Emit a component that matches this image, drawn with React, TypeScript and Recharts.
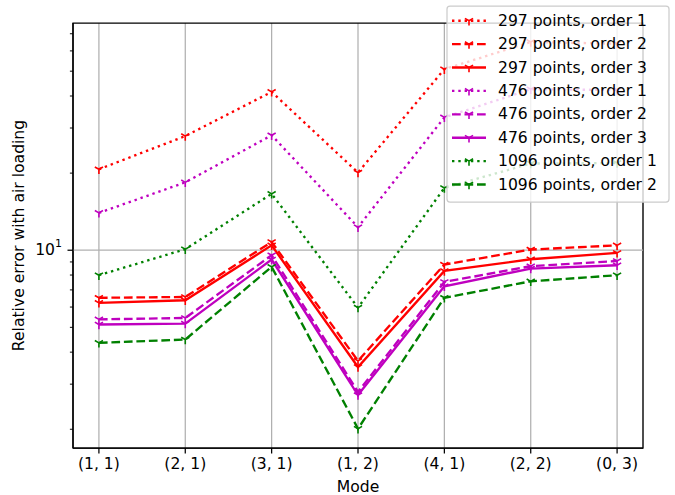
import React from 'react';
import {
  LineChart,
  Line,
  XAxis,
  YAxis,
  CartesianGrid,
  ReferenceLine,
  ReferenceArea,
} from 'recharts';

// modes on the x axis
const modes = ['(1, 1)', '(2, 1)', '(3, 1)', '(1, 2)', '(4, 1)', '(2, 2)', '(0, 3)'];

// relative error per mode
const p297o1 = [20.7, 27.9, 41.5, 20.1, 50.9, 65.0, 64.0];
const p297o2 = [6.52, 6.57, 10.77, 3.7, 8.79, 10.06, 10.45];
const p297o3 = [6.23, 6.38, 10.45, 3.5, 8.3, 9.22, 9.76];
const p476o1 = [13.99, 18.4, 28.1, 12.3, 33.0, 42.5, 42.2];
const p476o2 = [5.37, 5.44, 9.56, 2.8, 7.52, 8.66, 9.08];
const p476o3 = [5.13, 5.17, 9.2, 2.72, 7.23, 8.48, 8.74];
const p1096o1 = [7.99, 10.09, 16.6, 5.97, 17.5, 21.8, 21.9];
const p1096o2 = [4.35, 4.48, 8.61, 2.01, 6.52, 7.56, 7.99];

const yTicks = [2, 3, 4, 5, 6, 7, 8, 9, 10, 20, 30, 40, 50, 60, 70];
const yDomain = [1.69, 77.1];
const xDomain = [-0.3, 6.3];

const RED = '#ff0000';
const MAG = '#bf00bf';
const GRN = '#008000';
const DOT = '2.4 3.9';
const DASH = '8.7 3.8';
const FONT = 'DejaVu Sans, sans-serif';
const FS = 15.6;

const series = [
  { key: 'a', name: '297 points, order 1', values: p297o1, color: RED, dash: DOT },
  { key: 'b', name: '297 points, order 2', values: p297o2, color: RED, dash: DASH },
  { key: 'c', name: '297 points, order 3', values: p297o3, color: RED, dash: undefined },
  { key: 'd', name: '476 points, order 1', values: p476o1, color: MAG, dash: DOT },
  { key: 'e', name: '476 points, order 2', values: p476o2, color: MAG, dash: DASH },
  { key: 'f', name: '476 points, order 3', values: p476o3, color: MAG, dash: undefined },
  { key: 'g', name: '1096 points, order 1', values: p1096o1, color: GRN, dash: DOT },
  { key: 'h', name: '1096 points, order 2', values: p1096o2, color: GRN, dash: DASH },
];

const data = modes.map((m, i) => {
  const row: Record<string, number | string> = { idx: i, mode: m };
  series.forEach((s) => {
    row[s.key] = s.values[i];
  });
  return row;
});

// matplotlib tri_down marker
const triPath = (cx: number, cy: number, r = 4.7) =>
  `M${cx},${cy}L${cx},${cy + r}M${cx},${cy}L${cx - r * 0.866},${cy - r * 0.5}M${cx},${cy}L${cx + r * 0.866},${cy - r * 0.5}`;

const makeDot = (color: string) => (props: any) => {
  const { cx, cy, index } = props;
  if (cx == null || cy == null) return <g key={index} />;
  return <path key={index} d={triPath(cx, cy)} stroke={color} strokeWidth={1.6} fill="none" />;
};

const YTick = (props: any) => {
  const { x, y, payload } = props;
  const major = payload.value === 10;
  return (
    <g>
      <line x1={x - (major ? 5.5 : 3.1)} x2={x} y1={y} y2={y} stroke="#000" strokeWidth={major ? 1.25 : 0.95} />
      {major && (
        <text x={x - 11} y={y} textAnchor="end" dominantBaseline="central" fontFamily={FONT} fontSize={FS} fill="#000">
          10
          <tspan fontSize={FS * 0.7} dy={-7}>1</tspan>
        </text>
      )}
    </g>
  );
};

const App: React.FC = () => {
  const legendTop = 20.7;
  const rowH = 23.4;
  return (
    <div style={{ position: 'absolute', left: 0, top: 0, width: 675, height: 495, background: '#fff' }}>
      <LineChart
        width={675}
        height={495}
        data={data}
        margin={{ top: 23, right: 32, left: 0, bottom: 0 }}
      >
        <CartesianGrid horizontal={false} stroke="#b0b0b0" strokeWidth={1.25} />
        <ReferenceLine y={10} stroke="#b0b0b0" strokeWidth={1.25} />
        <XAxis
          dataKey="idx"
          type="number"
          domain={xDomain}
          ticks={[0, 1, 2, 3, 4, 5, 6]}
          tickFormatter={(v: number) => modes[v]}
          height={47}
          tickSize={5.5}
          tickMargin={4}
          axisLine={{ stroke: '#000', strokeWidth: 1.25 }}
          tickLine={{ stroke: '#000', strokeWidth: 1.25 }}
          tick={{ fill: '#000', fontSize: FS, fontFamily: FONT }}
          allowDataOverflow
          label={{
            content: (p: any) => {
              const vb = p.viewBox;
              return (
                <text x={vb.x + vb.width / 2} y={486.5} textAnchor="middle" dominantBaseline="central" fontFamily={FONT} fontSize={FS} fill="#000">
                  Mode
                </text>
              );
            },
          }}
        />
        <YAxis
          scale="log"
          type="number"
          domain={yDomain}
          allowDataOverflow
          ticks={yTicks}
          width={73}
          tickSize={0}
          tickMargin={0}
          tickLine={false}
          axisLine={{ stroke: '#000', strokeWidth: 1.25 }}
          tick={<YTick />}
          interval={0}
          label={{
            content: (p: any) => {
              const vb = p.viewBox;
              const cy = vb.y + vb.height / 2;
              return (
                <text x={18.5} y={cy} transform={`rotate(-90 18.5 ${cy})`} textAnchor="middle" dominantBaseline="central" fontFamily={FONT} fontSize={FS} fill="#000">
                  Relative error with air loading
                </text>
              );
            },
          }}
        />
        <ReferenceArea x1={xDomain[0]} x2={xDomain[1]} y1={yDomain[0]} y2={yDomain[1]} fill="none" stroke="#000" strokeWidth={1.25} />
        {series.map((s) => (
          <Line
            key={s.key}
            dataKey={s.key}
            name={s.name}
            stroke={s.color}
            strokeWidth={2.35}
            strokeDasharray={s.dash}
            dot={makeDot(s.color)}
            activeDot={false}
            isAnimationActive={false}
            type="linear"
          />
        ))}
      </LineChart>
      <svg width={675} height={495} style={{ position: 'absolute', left: 0, top: 0, pointerEvents: 'none' }}>
        <rect x={447} y={6} width={222} height={196} rx={3} ry={3} fill="#fff" fillOpacity={0.8} stroke="#cccccc" strokeWidth={1.25} />
        {series.map((s, i) => {
          const y = legendTop + i * rowH;
          return (
            <g key={s.key}>
              <line x1={452} x2={486} y1={y} y2={y} stroke={s.color} strokeWidth={2.35} strokeDasharray={s.dash} />
              <path d={triPath(469, y)} stroke={s.color} strokeWidth={1.6} fill="none" />
              <text x={498} y={y} dominantBaseline="central" fontFamily={FONT} fontSize={FS} fill="#000">
                {s.name}
              </text>
            </g>
          );
        })}
      </svg>
    </div>
  );
};

export default App;
